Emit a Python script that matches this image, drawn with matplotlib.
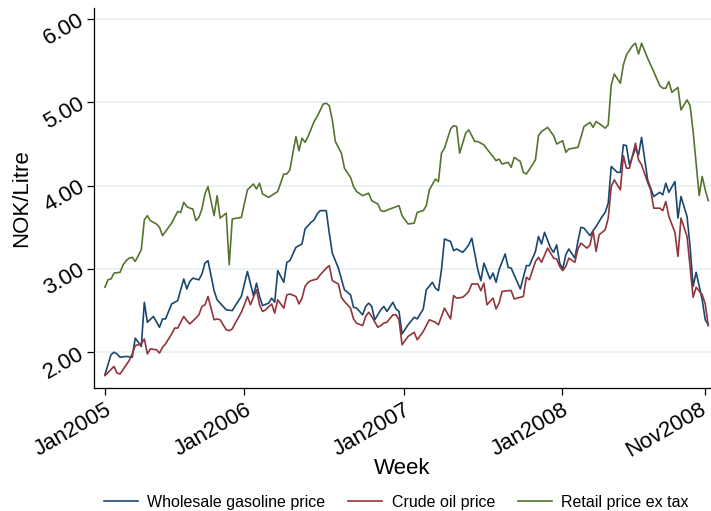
import matplotlib
matplotlib.use("Agg")
import matplotlib.pyplot as plt
from matplotlib.transforms import ScaledTranslation

plt.rcParams["font.family"] = ["Liberation Sans", "DejaVu Sans"]

# Weekly prices, NOK per litre; week 0 = first week of January 2005
wholesale_weeks = [0, 2, 3, 4, 5, 7, 9, 10, 12, 13, 14, 16, 18, 19, 20, 22, 24, 26, 27, 28, 29, 31, 32, 33, 34,
                   36, 37, 38, 40, 42, 43, 45, 47, 49, 50, 51, 52, 54, 55, 56, 57, 59, 60, 61, 63, 64, 65, 66,
                   68, 69, 70, 71, 73, 74, 75, 77, 78, 79, 81, 82, 83, 85, 86, 87, 88, 89, 91, 92, 93, 95, 96,
                   97, 98, 100, 102, 103, 105, 106, 108, 109, 110, 111, 112, 114, 115, 116, 118, 119, 120, 121,
                   123, 124, 125, 127, 128, 129, 130, 132, 133, 134, 137, 139, 140, 142, 143, 144, 145, 147, 148,
                   149, 150, 151, 152, 153, 155, 156, 157, 158, 160, 161, 162, 164, 165, 166, 167, 169, 170, 171,
                   172, 173, 175, 176, 177, 179, 181, 183, 184, 185, 186, 188, 189, 190, 192, 193, 194, 195, 197,
                   198, 199]
wholesale = [1.73, 1.97, 2.00, 1.98, 1.94, 1.95, 1.94, 2.17, 2.07, 2.60, 2.36, 2.43, 2.30, 2.40, 2.40, 2.58,
             2.62, 2.88, 2.76, 2.85, 2.89, 2.87, 2.94, 3.07, 3.10, 2.74, 2.63, 2.59, 2.51, 2.50, 2.56, 2.67,
             2.97, 2.68, 2.83, 2.67, 2.56, 2.59, 2.65, 2.60, 2.98, 2.84, 3.08, 3.10, 3.26, 3.28, 3.30, 3.48,
             3.56, 3.59, 3.66, 3.70, 3.70, 3.43, 3.19, 3.01, 2.88, 2.75, 2.69, 2.54, 2.53, 2.45, 2.55, 2.59,
             2.55, 2.39, 2.51, 2.55, 2.49, 2.60, 2.52, 2.49, 2.22, 2.33, 2.42, 2.40, 2.52, 2.75, 2.84, 2.77,
             2.74, 2.99, 3.36, 3.33, 3.22, 3.24, 3.20, 3.24, 3.29, 3.37, 2.99, 2.86, 3.07, 2.88, 2.95, 2.84,
             2.99, 3.18, 3.02, 3.01, 2.76, 3.04, 3.04, 3.21, 3.39, 3.30, 3.44, 3.25, 3.20, 3.29, 3.07, 3.00,
             3.17, 3.24, 3.13, 3.33, 3.50, 3.49, 3.40, 3.46, 3.51, 3.63, 3.68, 3.79, 4.23, 4.16, 4.16, 4.49,
             4.48, 4.25, 4.45, 4.37, 4.58, 4.07, 3.87, 3.92, 3.89, 4.03, 3.92, 4.05, 3.61, 3.87, 3.63, 3.27,
             2.79, 2.96, 2.63, 2.39, 2.33]

crude_weeks = [0, 3, 4, 5, 8, 9, 10, 12, 13, 14, 15, 17, 18, 19, 20, 22, 23, 24, 26, 27, 28, 30, 31, 32, 33,
               34, 36, 37, 38, 40, 41, 42, 43, 45, 46, 47, 48, 50, 51, 52, 53, 55, 56, 57, 59, 60, 61, 63, 64,
               65, 66, 67, 68, 70, 71, 73, 74, 75, 77, 78, 79, 81, 82, 83, 85, 86, 87, 88, 90, 91, 92, 93, 95,
               96, 97, 98, 100, 102, 103, 105, 107, 109, 110, 112, 114, 115, 116, 118, 119, 120, 121, 123, 124,
               125, 126, 128, 129, 130, 131, 133, 134, 135, 138, 139, 140, 142, 143, 144, 146, 147, 148, 149,
               150, 151, 152, 153, 155, 156, 157, 159, 160, 161, 162, 163, 165, 166, 167, 168, 170, 171, 172,
               173, 175, 176, 177, 179, 180, 181, 183, 184, 185, 186, 188, 189, 190, 192, 193, 194, 195, 197,
               198, 199]
crude = [1.72, 1.83, 1.75, 1.74, 1.90, 1.98, 2.08, 2.10, 2.16, 1.98, 2.04, 2.03, 1.99, 2.06, 2.10, 2.22, 2.29,
         2.29, 2.43, 2.38, 2.34, 2.41, 2.45, 2.55, 2.57, 2.67, 2.39, 2.40, 2.39, 2.27, 2.26, 2.28, 2.35, 2.48,
         2.57, 2.67, 2.57, 2.75, 2.57, 2.49, 2.51, 2.58, 2.47, 2.63, 2.53, 2.69, 2.70, 2.67, 2.58, 2.65, 2.79,
         2.84, 2.86, 2.88, 2.93, 3.01, 3.04, 2.86, 2.82, 2.66, 2.61, 2.53, 2.40, 2.35, 2.32, 2.43, 2.48, 2.43,
         2.30, 2.32, 2.35, 2.36, 2.45, 2.45, 2.39, 2.09, 2.19, 2.24, 2.15, 2.25, 2.39, 2.36, 2.33, 2.53, 2.40,
         2.68, 2.65, 2.66, 2.69, 2.73, 2.82, 2.82, 2.74, 2.83, 2.57, 2.65, 2.52, 2.59, 2.73, 2.74, 2.74, 2.64,
         2.67, 2.90, 2.87, 3.09, 3.14, 3.08, 3.25, 3.19, 3.13, 3.12, 3.03, 2.98, 3.03, 3.13, 3.08, 3.24, 3.31,
         3.25, 3.29, 3.46, 3.21, 3.41, 3.47, 3.61, 3.99, 4.07, 3.95, 4.36, 4.21, 4.21, 4.51, 4.31, 4.25, 4.04,
         3.95, 3.73, 3.73, 3.70, 3.81, 3.63, 3.44, 3.15, 3.61, 3.39, 3.03, 2.66, 2.78, 2.69, 2.58, 2.32]

retail_weeks = [0, 1, 2, 3, 5, 6, 7, 8, 9, 10, 12, 13, 14, 15, 17, 18, 19, 20, 22, 24, 25, 26, 27, 28, 29, 30,
                31, 32, 33, 34, 36, 37, 38, 40, 41, 42, 45, 47, 49, 50, 51, 52, 54, 57, 59, 60, 61, 63, 64, 65,
                66, 67, 69, 70, 72, 73, 74, 75, 76, 78, 79, 81, 82, 83, 85, 87, 88, 90, 91, 92, 94, 97, 98, 100,
                102, 103, 105, 106, 107, 109, 110, 111, 112, 114, 115, 116, 117, 119, 120, 122, 123, 125, 126,
                128, 129, 130, 131, 133, 134, 135, 137, 138, 139, 141, 142, 143, 144, 146, 147, 148, 149, 151,
                152, 153, 156, 157, 158, 160, 161, 162, 164, 165, 166, 167, 168, 170, 171, 172, 174, 175, 176,
                177, 179, 180, 181, 183, 184, 185, 186, 187, 189, 190, 192, 193, 194, 195, 196, 197, 198, 199]
retail = [2.78, 2.87, 2.88, 2.95, 2.96, 3.05, 3.10, 3.13, 3.14, 3.09, 3.23, 3.59, 3.64, 3.58, 3.54, 3.50, 3.40,
          3.45, 3.55, 3.69, 3.68, 3.80, 3.75, 3.73, 3.72, 3.58, 3.62, 3.72, 3.90, 3.99, 3.64, 3.88, 3.61, 3.67,
          3.05, 3.60, 3.62, 3.95, 4.02, 3.96, 4.03, 3.90, 3.86, 3.93, 4.14, 4.14, 4.19, 4.59, 4.42, 4.57, 4.52,
          4.59, 4.77, 4.83, 4.98, 4.99, 4.96, 4.79, 4.53, 4.39, 4.21, 4.10, 3.99, 3.93, 3.88, 3.91, 3.82, 3.78,
          3.70, 3.69, 3.72, 3.76, 3.64, 3.54, 3.55, 3.68, 3.70, 3.76, 3.95, 4.08, 4.05, 4.39, 4.45, 4.68, 4.72,
          4.71, 4.39, 4.63, 4.67, 4.53, 4.53, 4.49, 4.44, 4.35, 4.30, 4.32, 4.26, 4.28, 4.22, 4.34, 4.29, 4.16,
          4.14, 4.25, 4.31, 4.60, 4.65, 4.70, 4.65, 4.60, 4.50, 4.54, 4.40, 4.44, 4.46, 4.58, 4.71, 4.76, 4.70,
          4.77, 4.72, 4.69, 4.73, 5.21, 5.34, 5.23, 5.45, 5.57, 5.68, 5.71, 5.58, 5.71, 5.53, 5.45, 5.37, 5.20,
          5.17, 5.17, 5.25, 5.12, 5.18, 4.91, 5.03, 4.96, 4.65, 4.27, 3.88, 4.11, 3.95, 3.82]

series_labels = ["Wholesale gasoline price", "Crude oil price", "Retail price ex tax"]
x_tick_weeks = [0, 46, 98.6, 150.6, 198]
x_tick_labels = ["Jan2005", "Jan2006", "Jan2007", "Jan2008", "Nov2008"]
y_ticks = [2, 3, 4, 5, 6]

colors = ["#1a476f", "#90353b", "#55752f"]

fig = plt.figure(figsize=(7.11, 5.11), dpi=100)
ax = fig.add_axes([94 / 711, 1 - 388 / 511, 617 / 711, 380 / 511])

for yt in y_ticks:
    ax.axhline(yt, color="#eaf2f3", lw=1.4, zorder=0)

ax.plot(wholesale_weeks, wholesale, color=colors[0], lw=1.2, label=series_labels[0])
ax.plot(crude_weeks, crude, color=colors[1], lw=1.2, label=series_labels[1])
ax.plot(retail_weeks, retail, color=colors[2], lw=1.2, label=series_labels[2])

ax.set_xlim(-3.6, 199.9)
ax.set_ylim(1.571, 6.133)

ax.spines["top"].set_visible(False)
ax.spines["right"].set_visible(False)
ax.spines["left"].set_linewidth(0.9)
ax.spines["bottom"].set_linewidth(0.9)

ax.set_xticks(x_tick_weeks)
ax.set_xticklabels(x_tick_labels, rotation=30, ha="right", rotation_mode="anchor", fontsize=16)
ax.set_yticks(y_ticks)
ax.set_yticklabels([f"{v:.2f}" for v in y_ticks], rotation=30, ha="right", va="center",
                   rotation_mode="anchor", fontsize=16)
ax.tick_params(axis="both", direction="out", length=5, width=0.9, color="black", pad=3)

# keep the last date label inside the canvas
last_label = ax.get_xticklabels()[-1]
last_label.set_transform(last_label.get_transform() + ScaledTranslation(-4 / 72, 0, fig.dpi_scale_trans))

ax.set_xlabel("Week", fontsize=16, labelpad=-3)
ax.set_ylabel("NOK/Litre", fontsize=16, labelpad=6)

ax.legend(loc="center", bbox_to_anchor=(0.49, -0.3), ncol=3, frameon=False, fontsize=11.5,
          handlelength=2.1, handletextpad=0.6, columnspacing=1.45)

fig.savefig("out.png", dpi=100)
